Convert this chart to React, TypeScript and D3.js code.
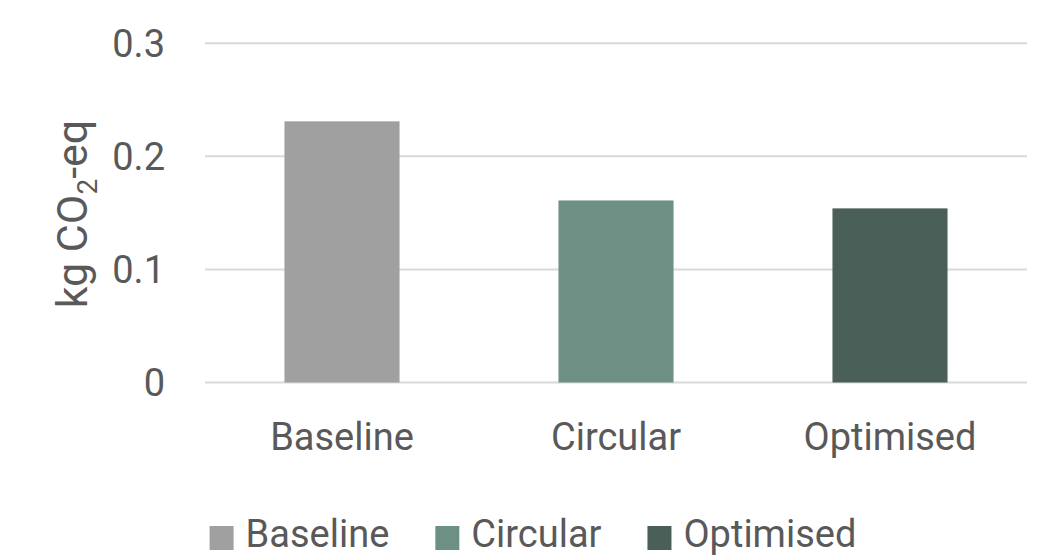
import React, { useEffect, useRef } from "react";
import * as d3 from "d3";

// Emissions per scenario (kg CO2-eq)
const categories: string[] = ["Baseline", "Circular", "Optimised"];
const values: number[] = [0.231, 0.161, 0.154];
const colors: string[] = ["#a0a0a0", "#6e9084", "#4a5f57"];
const yTicks: number[] = [0, 0.1, 0.2, 0.3];
const yTickLabels: string[] = ["0", "0.1", "0.2", "0.3"];

const W = 1053;
const H = 560;
const FONT = "Roboto, 'Noto Sans', sans-serif";
const TEXT = "#595959";

export default function App() {
  const ref = useRef<SVGSVGElement | null>(null);

  useEffect(() => {
    const svg = d3.select(ref.current);
    svg.selectAll("*").remove();

    const plot = { left: 205, right: 1027, top: 43.3, bottom: 382.5 };

    const x = d3
      .scaleBand<string>()
      .domain(categories)
      .range([plot.left, plot.right])
      .paddingInner(0.58)
      .paddingOuter(0.29);

    const y = d3.scaleLinear().domain([0, 0.3]).range([plot.bottom, plot.top]);

    // gridlines
    svg
      .append("g")
      .selectAll("line")
      .data(yTicks)
      .join("line")
      .attr("x1", plot.left)
      .attr("x2", plot.right)
      .attr("y1", (d) => y(d))
      .attr("y2", (d) => y(d))
      .attr("stroke", "#d9d9d9")
      .attr("stroke-width", 2);

    // y tick labels
    svg
      .append("g")
      .selectAll("text")
      .data(yTicks)
      .join("text")
      .attr("x", 165)
      .attr("y", (d) => y(d))
      .attr("dy", "0.36em")
      .attr("text-anchor", "end")
      .attr("font-family", FONT)
      .attr("font-size", 38)
      .attr("fill", TEXT)
      .text((_, i) => yTickLabels[i]);

    // y axis title
    const yTitle = svg
      .append("text")
      .attr("transform", "translate(87,214) rotate(-90)")
      .attr("text-anchor", "middle")
      .attr("font-family", FONT)
      .attr("font-size", 43)
      .attr("fill", TEXT);
    yTitle.append("tspan").text("kg CO");
    yTitle.append("tspan").attr("font-size", 28).attr("dy", 10).text("2");
    yTitle.append("tspan").attr("dy", -10).text("-eq");

    // bars
    svg
      .append("g")
      .selectAll("rect")
      .data(values)
      .join("rect")
      .attr("x", (_, i) => x(categories[i]) as number)
      .attr("width", x.bandwidth())
      .attr("y", (d) => y(d))
      .attr("height", (d) => y(0) - y(d))
      .attr("fill", (_, i) => colors[i]);

    // category labels
    svg
      .append("g")
      .selectAll("text")
      .data(categories)
      .join("text")
      .attr("x", (d) => (x(d) as number) + x.bandwidth() / 2)
      .attr("y", 450)
      .attr("text-anchor", "middle")
      .attr("font-family", FONT)
      .attr("font-size", 38)
      .attr("fill", TEXT)
      .text((d) => d);

    // legend
    const legend = svg.append("g");
    const sw = 24;
    const gap = 12;
    const itemGap = 46;
    const items = legend
      .selectAll("g")
      .data(categories)
      .join("g");
    items
      .append("rect")
      .attr("width", sw)
      .attr("height", sw)
      .attr("y", 526)
      .attr("fill", (_, i) => colors[i]);
    items
      .append("text")
      .attr("x", sw + gap)
      .attr("y", 547)
      .attr("font-family", FONT)
      .attr("font-size", 38)
      .attr("fill", TEXT)
      .text((d) => d);

    let cx = 0;
    const offsets: number[] = [];
    items.each(function () {
      offsets.push(cx);
      const t = d3.select(this).select("text").node() as SVGTextElement;
      cx += sw + gap + t.getComputedTextLength() + itemGap;
    });
    const total = cx - itemGap;
    const startX = 533 - total / 2;
    items.attr("transform", (_, i) => `translate(${startX + offsets[i]},0)`);
  }, []);

  return (
    <svg
      ref={ref}
      width={W}
      height={H}
      style={{ position: "absolute", left: 0, top: 0, background: "#fff" }}
    />
  );
}
